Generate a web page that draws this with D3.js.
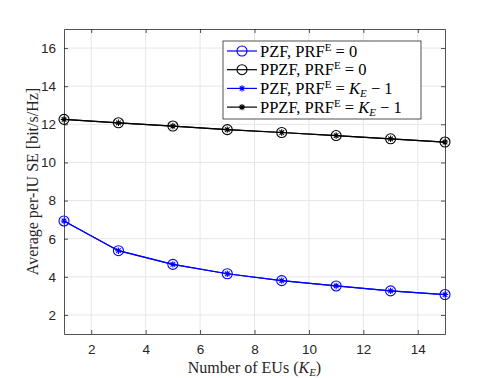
<!DOCTYPE html>
<html>
<head>
<meta charset="utf-8">
<script src="https://cdn.jsdelivr.net/npm/d3@7"></script>
<style>
  body { margin: 0; background: #fff; }
  svg { display: block; }
</style>
</head>
<body>
<div id="chart"></div>
<script>
const numEUs = [1, 3, 5, 7, 9, 11, 13, 15];
const pzfZero = [6.93, 5.37, 4.65, 4.16, 3.80, 3.52, 3.26, 3.07];
const ppzfZero = [12.26, 12.08, 11.91, 11.72, 11.57, 11.41, 11.24, 11.07];
const pzfFull = [6.93, 5.37, 4.65, 4.16, 3.80, 3.52, 3.26, 3.07];
const ppzfFull = [12.26, 12.08, 11.91, 11.72, 11.57, 11.41, 11.24, 11.07];
const xTicks = [2, 4, 6, 8, 10, 12, 14];
const yTicks = [2, 4, 6, 8, 10, 12, 14, 16];

const width = 491, height = 378;
const margin = { left: 64, right: 46, top: 29, bottom: 44 };
const axisColor = '#262626';
const serif = '"Liberation Serif", "DejaVu Serif", serif';

const svg = d3.select('#chart').append('svg')
	.attr('width', width)
	.attr('height', height);

const x = d3.scaleLinear().domain([1, 15]).range([margin.left, width - margin.right]);
const y = d3.scaleLinear().domain([1, 17]).range([height - margin.bottom, margin.top]);

// grid
svg.append('g').selectAll('line.gx')
	.data(xTicks).enter().append('line')
	.attr('x1', d => x(d)).attr('x2', d => x(d))
	.attr('y1', y(1)).attr('y2', y(17))
	.attr('stroke', '#e6e6e6').attr('stroke-width', 1);
svg.append('g').selectAll('line.gy')
	.data(yTicks).enter().append('line')
	.attr('x1', x(1)).attr('x2', x(15))
	.attr('y1', d => y(d)).attr('y2', d => y(d))
	.attr('stroke', '#e6e6e6').attr('stroke-width', 1);

// axes
const xAxis = svg.append('g')
	.attr('transform', 'translate(0,' + y(1) + ')')
	.call(d3.axisBottom(x).tickValues(xTicks).tickSizeInner(-4).tickSizeOuter(0).tickPadding(10));
const xAxisTop = svg.append('g')
	.attr('transform', 'translate(0,' + y(17) + ')')
	.call(d3.axisTop(x).tickValues(xTicks).tickSizeInner(-4).tickSizeOuter(0).tickFormat(''));
const yAxis = svg.append('g')
	.attr('transform', 'translate(' + x(1) + ',0)')
	.call(d3.axisLeft(y).tickValues(yTicks).tickSizeInner(-4).tickSizeOuter(0).tickPadding(8));
const yAxisRight = svg.append('g')
	.attr('transform', 'translate(' + x(15) + ',0)')
	.call(d3.axisRight(y).tickValues(yTicks).tickSizeInner(-4).tickSizeOuter(0).tickFormat(''));

[xAxis, xAxisTop, yAxis, yAxisRight].forEach(a => {
	a.selectAll('path').attr('stroke', axisColor).attr('stroke-width', 0.8);
	a.selectAll('line').attr('stroke', axisColor).attr('stroke-width', 0.8);
	a.selectAll('text')
		.attr('fill', axisColor)
		.style('font-family', '"Liberation Sans", Arial, sans-serif')
		.style('font-size', '13.5px');
});

// series
const series = [
	{ values: pzfZero, color: '#0000ff', marker: 'o' },
	{ values: ppzfZero, color: '#000000', marker: 'o' },
	{ values: pzfFull, color: '#0000ff', marker: '*' },
	{ values: ppzfFull, color: '#000000', marker: '*' }
];

const line = d3.line()
	.x((d, i) => x(numEUs[i]))
	.y(d => y(d));

function starPath(r) {
	let p = '';
	for (let k = 0; k < 4; k++) {
		const a = k * Math.PI / 4;
		const dx = r * Math.cos(a), dy = r * Math.sin(a);
		p += 'M' + (-dx) + ',' + (-dy) + 'L' + dx + ',' + dy;
	}
	return p;
}

function drawMarker(g, cx, cy, s) {
	if (s.marker === 'o') {
		g.append('circle')
			.attr('cx', cx).attr('cy', cy).attr('r', 5)
			.attr('fill', 'none').attr('stroke', s.color).attr('stroke-width', 1.1);
	} else {
		g.append('path')
			.attr('d', starPath(3.2))
			.attr('transform', 'translate(' + cx + ',' + cy + ')')
			.attr('fill', 'none').attr('stroke', s.color).attr('stroke-width', 1.1);
	}
}

series.forEach(s => {
	const g = svg.append('g');
	g.append('path')
		.datum(s.values)
		.attr('d', line)
		.attr('fill', 'none')
		.attr('stroke', s.color)
		.attr('stroke-width', 1.2);
	s.values.forEach((v, i) => drawMarker(g, x(numEUs[i]), y(v), s));
});

// axis labels
svg.append('text')
	.attr('x', (x(1) + x(15)) / 2)
	.attr('y', 373)
	.attr('text-anchor', 'middle')
	.style('font-family', serif)
	.style('font-size', '16px')
	.attr('fill', axisColor)
	.call(t => {
		t.append('tspan').text('Number of EUs (');
		t.append('tspan').attr('font-style', 'italic').text('K');
		t.append('tspan').attr('font-style', 'italic').attr('font-size', '11px').attr('dy', 3).text('E');
		t.append('tspan').attr('dy', -3).text(')');
	});

svg.append('text')
	.attr('transform', 'translate(38,' + ((y(1) + y(17)) / 2) + ') rotate(-90)')
	.attr('text-anchor', 'middle')
	.style('font-family', serif)
	.style('font-size', '16px')
	.attr('fill', axisColor)
	.text('Average per-IU SE [bit/s/Hz]');

// legend
const legendNames = ['PZF, PRF', 'PPZF, PRF', 'PZF, PRF', 'PPZF, PRF'];
const legend = svg.append('g');
legend.append('rect')
	.attr('x', 223).attr('y', 41)
	.attr('width', 198).attr('height', 78)
	.attr('fill', '#fff')
	.attr('stroke', '#262626')
	.attr('stroke-width', 0.8);

series.forEach((s, i) => {
	const ry = 51 + i * 18.7;
	const g = legend.append('g');
	g.append('line')
		.attr('x1', 227).attr('x2', 257)
		.attr('y1', ry).attr('y2', ry)
		.attr('stroke', s.color).attr('stroke-width', 1.2);
	drawMarker(g, 242, ry, s);
	const t = g.append('text')
		.attr('x', 260).attr('y', ry + 5.5)
		.style('font-family', serif)
		.style('font-size', '16.5px')
		.attr('fill', '#000');
	t.append('tspan').text(legendNames[i]);
	t.append('tspan').attr('font-size', '11px').attr('dy', -6).text('E');
	if (i < 2) {
		t.append('tspan').attr('dy', 6).text(' = 0');
	} else {
		t.append('tspan').attr('dy', 6).text(' = ');
		t.append('tspan').attr('font-style', 'italic').text('K');
		t.append('tspan').attr('font-style', 'italic').attr('font-size', '11px').attr('dy', 3).text('E');
		t.append('tspan').attr('dy', -3).text(' \u2212 1');
	}
});
</script>
</body>
</html>
